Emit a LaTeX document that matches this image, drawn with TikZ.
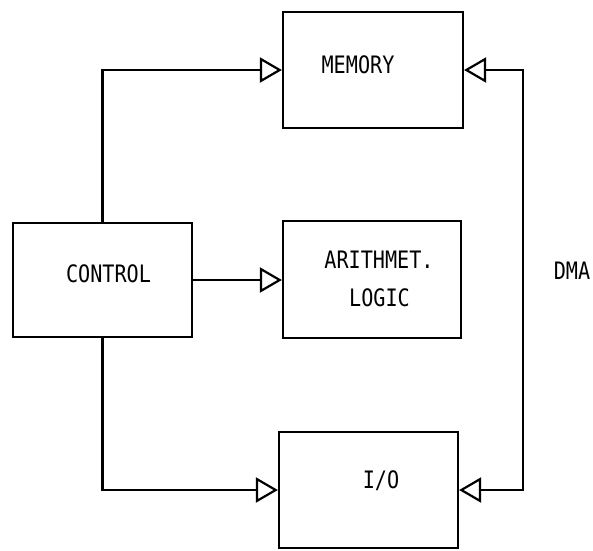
\documentclass[tikz,border=0pt]{standalone}
\usepackage{fontspec}
\setmonofont{DejaVu Sans Mono}[FakeStretch=0.84]
\usetikzlibrary{arrows.meta}
\tikzset{
  blockbox/.style={draw, line width=2.2pt, inner sep=0pt},
  lbl/.style={font=\ttfamily\fontsize{24}{28}\selectfont, inner sep=0pt, text height=17pt, text depth=0pt, anchor=center},
  conn/.style={line width=2.2pt, line join=miter},
  opentip/.style={-{Triangle[open, length=22pt, width=25pt, line width=2.2pt, fill=white]}},
  opentips/.style={{Triangle[open, length=22pt, width=25pt, line width=2.2pt, fill=white]}-{Triangle[open, length=22pt, width=25pt, line width=2.2pt, fill=white]}}
}
\begin{document}
\begin{tikzpicture}[x=1pt,y=-1pt]
\useasboundingbox (0,0) rectangle (593,550);
\fill[white] (0,0) rectangle (593,550);
% boxes
\node[blockbox, minimum width=180pt, minimum height=116pt] (memory) at (373,70) {};
\node[blockbox, minimum width=179pt, minimum height=114pt] (control) at (102.5,280) {};
\node[blockbox, minimum width=178pt, minimum height=117pt] (arith) at (372,279.5) {};
\node[blockbox, minimum width=179pt, minimum height=116pt] (io) at (368.5,490) {};
% labels
\node[lbl] (memlbl) at (358,65) {MEMORY};
\node[lbl] (ctllbl) at (108.5,274) {CONTROL};
\node[lbl] (arlbla) at (379,260) {ARITHMET.};
\node[lbl] (arlblb) at (379.5,298) {LOGIC};
\node[lbl] (iolbl) at (381,480) {I/O};
\node[lbl] (dmalbl) at (572,271) {DMA};
% connectors
\draw[conn, opentip] (control.north) |- (memory.west);
\draw[conn, opentip] (control.east) -- (control.east -| arith.west);
\draw[conn, opentip] (control.south) |- (io.west);
\draw[conn, opentips] (memory.east) -- ++(59,0) |- (io.east);
\end{tikzpicture}
\end{document}
